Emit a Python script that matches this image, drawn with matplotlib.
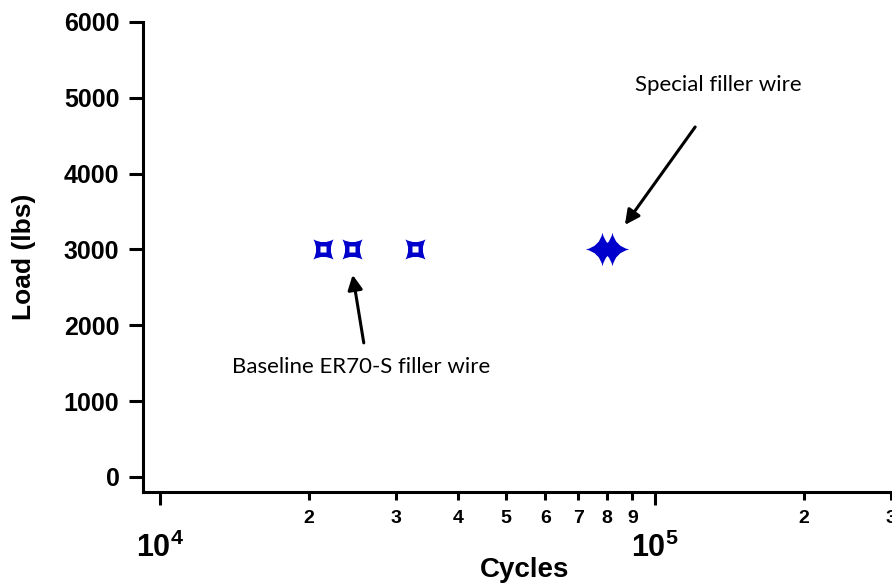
import matplotlib
matplotlib.use("Agg")
import matplotlib.pyplot as plt
import numpy as np
from matplotlib.path import Path
from matplotlib.markers import MarkerStyle
from matplotlib.ticker import FixedLocator, FixedFormatter

plt.rcParams['font.family'] = ['Liberation Sans', 'DejaVu Sans']
plt.rcParams['mathtext.fontset'] = 'custom'
plt.rcParams['mathtext.rm'] = 'Liberation Sans:bold'
plt.rcParams['mathtext.bf'] = 'Liberation Sans:bold'

# data
baseline_cycles = [21300, 24400, 32700]
baseline_load = [3000, 3000, 3000]
special_cycles = [78000, 82000]
special_load = [3000, 3000]

major_ticks = [1e4, 1e5]
major_labels = [r'$\mathbf{10^{4}}$', r'$\mathbf{10^{5}}$']
minor_ticks = [2e4, 3e4, 4e4, 5e4, 6e4, 7e4, 8e4, 9e4, 2e5, 3e5]
minor_labels = ['2', '3', '4', '5', '6', '7', '8', '9', '2', '3']
y_ticks = [0, 1000, 2000, 3000, 4000, 5000, 6000]

# annotation anchors (data coords)
special_text = (91000, 5170)
special_arrow = ((120500, 4615), (86900, 3323))
base_text = (14000, 1450)
base_arrow = ((25800, 1767), (24500, 2664))

blue = '#0000CD'


def curved_star(pts, k):
    # pts: the 4 tips in order, sides bent inward towards the centre
    verts, codes = [pts[0]], [Path.MOVETO]
    for i in range(4):
        a, b = np.array(pts[i]), np.array(pts[(i + 1) % 4])
        verts += [tuple((a + b) / 2 * k), tuple(b)]
        codes += [Path.CURVE3, Path.CURVE3]
    verts.append(pts[0])
    codes.append(Path.CLOSEPOLY)
    return verts, codes


# hollow marker: tips at the corners, square hole in the middle
ov, oc = curved_star([(-1, 1), (1, 1), (1, -1), (-1, -1)], 0.45)
h = 0.3
iv = [(-h, -h), (h, -h), (h, h), (-h, h), (-h, -h)]
ic = [Path.MOVETO] + [Path.LINETO] * 3 + [Path.CLOSEPOLY]
hollow_star = MarkerStyle(Path(ov + iv, oc + ic))

# filled marker: tips up/down/left/right
fv, fc = curved_star([(0, 1), (1, 0), (0, -1), (-1, 0)], 0.35)
filled_star = MarkerStyle(Path(fv, fc))

fig = plt.figure(figsize=(8.92, 5.86), dpi=100)
ax = fig.add_axes([0.1603, 0.1604, 0.8397, 0.8021])

ax.plot(baseline_cycles, baseline_load, linestyle='none', marker=hollow_star,
        markersize=14.5, color=blue, markeredgewidth=0, clip_on=False)
ax.plot(special_cycles, special_load, linestyle='none', marker=filled_star,
        markersize=24, color=blue, markeredgewidth=0, clip_on=False)

ax.set_xscale('log')
ax.set_xlim(9240, 301000)
ax.set_ylim(-200, 6000)

ax.xaxis.set_major_locator(FixedLocator(major_ticks))
ax.xaxis.set_major_formatter(FixedFormatter(major_labels))
ax.xaxis.set_minor_locator(FixedLocator(minor_ticks))
ax.xaxis.set_minor_formatter(FixedFormatter(minor_labels))
ax.set_yticks(y_ticks)

for s in ['top', 'right']:
    ax.spines[s].set_visible(False)
for s in ['left', 'bottom']:
    ax.spines[s].set_linewidth(2.2)

ax.tick_params(axis='x', which='major', length=9.5, width=2.2, pad=20, labelsize=22)
ax.tick_params(axis='x', which='minor', length=6, width=2.2, pad=7, labelsize=14)
ax.tick_params(axis='y', length=10, width=2.2, pad=7, labelsize=18)
for lab in ax.get_yticklabels() + ax.get_xticklabels(minor=True):
    lab.set_fontweight('bold')

ax.set_xlabel('Cycles', fontsize=20, fontweight='bold')
ax.xaxis.set_label_coords(0.51, -0.138)
ax.set_ylabel('Load (lbs)', fontsize=19, fontweight='bold', labelpad=20)

ax.text(special_text[0], special_text[1], 'Special filler wire', fontsize=16,
        family=['Lato', 'DejaVu Sans'], va='center', ha='left')
ax.annotate('', xy=special_arrow[1], xytext=special_arrow[0],
            arrowprops=dict(arrowstyle='-|>', color='black', lw=2.2,
                            mutation_scale=22, shrinkA=0, shrinkB=0))
ax.text(base_text[0], base_text[1], 'Baseline ER70-S filler wire', fontsize=16,
        family=['Lato', 'DejaVu Sans'], va='center', ha='left')
ax.annotate('', xy=base_arrow[1], xytext=base_arrow[0],
            arrowprops=dict(arrowstyle='-|>', color='black', lw=2.2,
                            mutation_scale=22, shrinkA=0, shrinkB=0))

fig.savefig('out.png', dpi=100)
